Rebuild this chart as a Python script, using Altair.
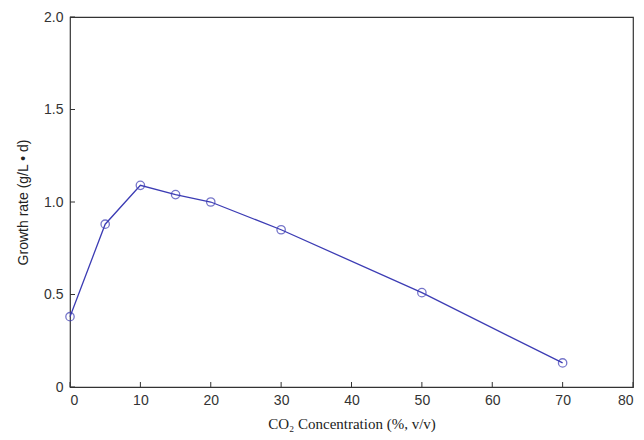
import altair as alt
import pandas as pd

co2 = [0, 5, 10, 15, 20, 30, 50, 70]
growth = [0.38, 0.88, 1.09, 1.04, 1.00, 0.85, 0.51, 0.13]
x_ticks = [0, 10, 20, 30, 40, 50, 60, 70, 80]
y_ticks = [0, 0.5, 1.0, 1.5, 2.0]

W, H = 563, 370
df = pd.DataFrame({"x": co2, "y": growth})
xt = pd.DataFrame({"x": x_ticks})
yt = pd.DataFrame({"y": y_ticks})

xs = alt.Scale(domain=[0, 80], nice=False)
ys = alt.Scale(domain=[0, 2.0], nice=False)
blue = "#3c3cb4"

base = alt.Chart(df).encode(
    x=alt.X("x:Q", scale=xs, title="CO₂ Concentration (%, v/v)",
            axis=alt.Axis(values=x_ticks, tickSize=0, grid=False, domain=False,
                          labelFont="Liberation Sans", labelFontSize=14, labelColor="#333",
                          labelPadding=6, titleFont="Liberation Serif", titleFontSize=15,
                          titleFontWeight="normal", titleColor="#222", titlePadding=9)),
    y=alt.Y("y:Q", scale=ys, title="Growth rate (g/L • d)",
            axis=alt.Axis(values=y_ticks, tickSize=0, grid=False, domain=False,
                          labelExpr="datum.value == 0 ? '0' : format(datum.value, '.1f')",
                          labelFont="Liberation Sans", labelFontSize=14, labelColor="#333",
                          labelPadding=7, titleFont="Liberation Sans", titleFontSize=14,
                          titleFontWeight="normal", titleColor="#222", titlePadding=13)),
)

line = base.mark_line(color=blue, strokeWidth=1.3)
pts = base.mark_point(shape="circle", filled=False, color=blue, size=70, strokeWidth=1.3)

xtick = alt.Chart(xt).mark_rule(color="#333").encode(
    x=alt.X("x:Q", scale=xs), y=alt.value(H), y2=alt.value(H - 5))
ytick = alt.Chart(yt).mark_rule(color="#333").encode(
    y=alt.Y("y:Q", scale=ys), x=alt.value(0), x2=alt.value(5))

chart = alt.layer(xtick, ytick, line, pts).properties(
    width=W, height=H,
    autosize=alt.AutoSizeParams(type="none"),
    padding={"left": 62, "top": 9, "right": 3, "bottom": 50},
).configure_view(stroke="#333", strokeWidth=1.2)

chart.save("out.html", embed_options={"renderer": "svg", "actions": False})
